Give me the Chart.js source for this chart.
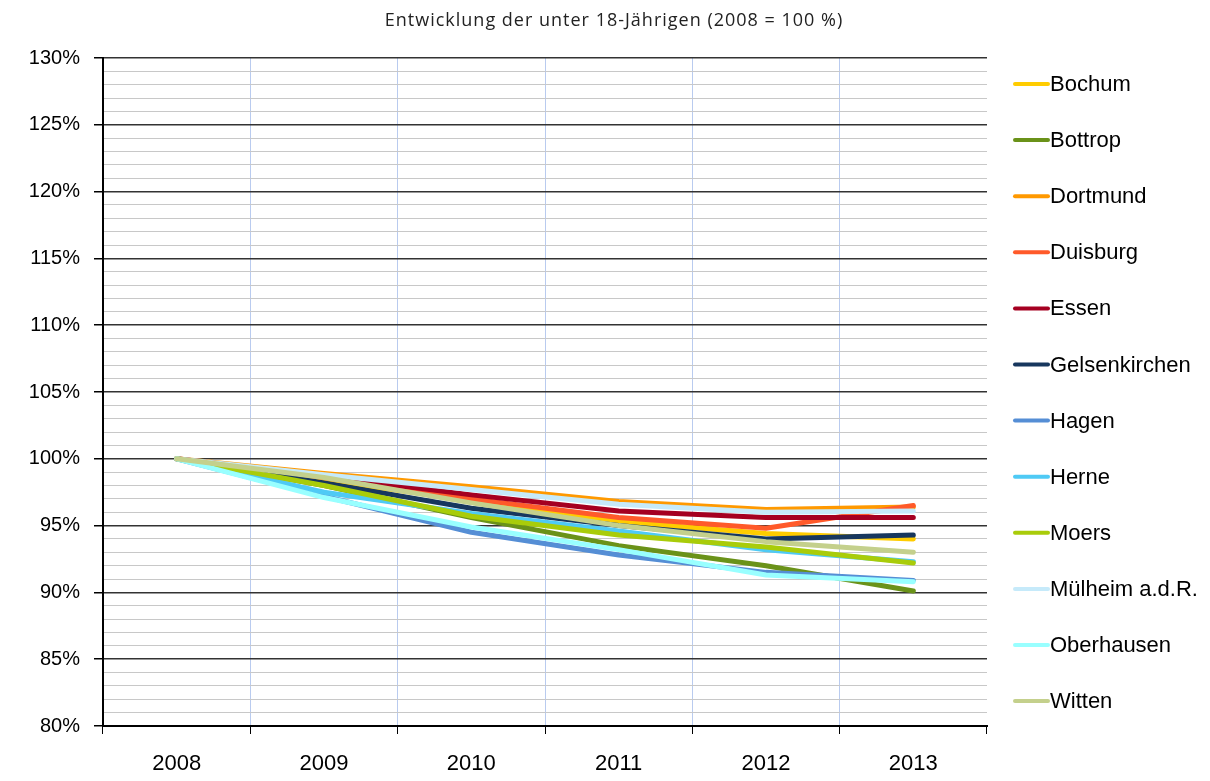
<!DOCTYPE html>
<html lang="de">
<head>
  <meta charset="UTF-8">
  <title>Entwicklung der unter 18-Jährigen</title>
  <script src="https://cdn.jsdelivr.net/npm/chart.js"></script>
  <style>
    body { margin: 0; background: #fff; }
    #wrap { width: 1210px; height: 781px; }
  </style>
</head>
<body>
  <div id="wrap"><canvas id="chart" width="1210" height="781"></canvas></div>
  <script>
    // Data (2008 = 100 %)
    const years = ['2008', '2009', '2010', '2011', '2012', '2013'];
    const cities = ['Bochum', 'Bottrop', 'Dortmund', 'Duisburg', 'Essen', 'Gelsenkirchen',
                    'Hagen', 'Herne', 'Moers', 'Mülheim a.d.R.', 'Oberhausen', 'Witten'];
    const colors = ['#ffcc00', '#6a9219', '#ff9900', '#ff5a2a', '#a50021', '#17375e',
                    '#558ed5', '#4fcaf5', '#a9cc0a', '#c6eafa', '#99ffff', '#c4d08c'];

    const bochum        = [100, 98.4, 96.9, 95.3, 94.4, 94.0];
    const bottrop       = [100, 98.0, 95.6, 93.5, 92.0, 90.1];
    const dortmund      = [100, 98.9, 97.9, 96.8, 96.2, 96.4];
    const duisburg      = [100, 98.6, 97.0, 95.6, 94.8, 96.5];
    const essen         = [100, 98.7, 97.3, 96.1, 95.6, 95.6];
    const gelsenkirchen = [100, 98.2, 96.3, 95.0, 94.0, 94.3];
    const hagen         = [100, 97.2, 94.5, 92.8, 91.5, 90.9];
    const herne         = [100, 97.5, 95.9, 94.6, 93.2, 92.3];
    const moers         = [100, 98.0, 95.7, 94.3, 93.4, 92.2];
    const muelheim      = [100, 98.8, 97.7, 96.6, 96.0, 96.1];
    const oberhausen    = [100, 97.1, 94.9, 93.2, 91.3, 90.8];
    const witten        = [100, 98.6, 96.7, 95.0, 93.8, 93.0];

    const series = [bochum, bottrop, dortmund, duisburg, essen, gelsenkirchen,
                    hagen, herne, moers, muelheim, oberhausen, witten];

    const FONT = "'Liberation Sans', Arial, sans-serif";

    // title + legend drawn by hand so they sit where the original has them
    const decor = {
      id: 'decor',
      afterDraw(chart) {
        const ctx = chart.ctx;
        ctx.save();
        ctx.fillStyle = '#222';
        ctx.font = "18px 'Open Sans', sans-serif";
        ctx.letterSpacing = '1px';
        ctx.textAlign = 'center';
        ctx.textBaseline = 'middle';
        ctx.fillText('Entwicklung der unter 18-Jährigen (2008 = 100 %)', 614, 21);
        ctx.letterSpacing = '0px';

        ctx.textAlign = 'left';
        ctx.font = '22px ' + FONT;
        ctx.lineCap = 'round';
        chart.data.datasets.forEach((ds, i) => {
          const y = 84 + i * 56.1;
          ctx.strokeStyle = ds.borderColor;
          ctx.lineWidth = 4;
          ctx.beginPath();
          ctx.moveTo(1015, y);
          ctx.lineTo(1048, y);
          ctx.stroke();
          ctx.fillStyle = '#000';
          ctx.fillText(ds.label, 1050, y + 1);
        });
        ctx.restore();
      }
    };

    new Chart(document.getElementById('chart').getContext('2d'), {
      type: 'line',
      data: {
        labels: years,
        datasets: cities.map((c, i) => ({
          label: c,
          data: series[i],
          borderColor: colors[i],
          backgroundColor: colors[i],
          borderWidth: 5,
          borderCapStyle: 'round',
          borderJoinStyle: 'round',
          pointRadius: 0,
          tension: 0,
          order: -i
        }))
      },
      options: {
        responsive: false,
        animation: false,
        layout: { padding: { top: 58, right: 223, left: 0, bottom: 0 } },
        plugins: {
          legend: { display: false },
          title: { display: false },
          tooltip: { enabled: false }
        },
        scales: {
          x: {
            offset: true,
            afterFit: s => { s.height = 55; },
            border: { color: '#000', width: 2 },
            grid: {
              offset: true,
              tickLength: 8,
              // first and last boundary lines are hidden (axis / open right edge)
              color: c => (c.index === undefined || c.index === 0) ? 'rgba(0,0,0,0)' : '#b9cbef',
              tickColor: '#000',
              lineWidth: 1
            },
            ticks: {
              color: '#000',
              padding: 17,
              font: { family: FONT, size: 22 }
            }
          },
          y: {
            min: 80,
            max: 130,
            afterFit: s => { s.width = 103; },
            border: { color: '#000', width: 2 },
            grid: {
              tickLength: 9,
              color: c => c.tick.value % 5 === 0 ? '#333' : '#c8c8c8',
              lineWidth: c => c.tick.value % 5 === 0 ? 1.5 : 1,
              tickColor: c => c.tick.value % 5 === 0 ? '#000' : 'rgba(0,0,0,0)'
            },
            ticks: {
              stepSize: 1,
              autoSkip: false,
              color: '#000',
              padding: 14,
              font: { family: FONT, size: 20 },
              callback: v => v % 5 === 0 ? v + '%' : ''
            }
          }
        }
      },
      plugins: [decor]
    });
  </script>
</body>
</html>
